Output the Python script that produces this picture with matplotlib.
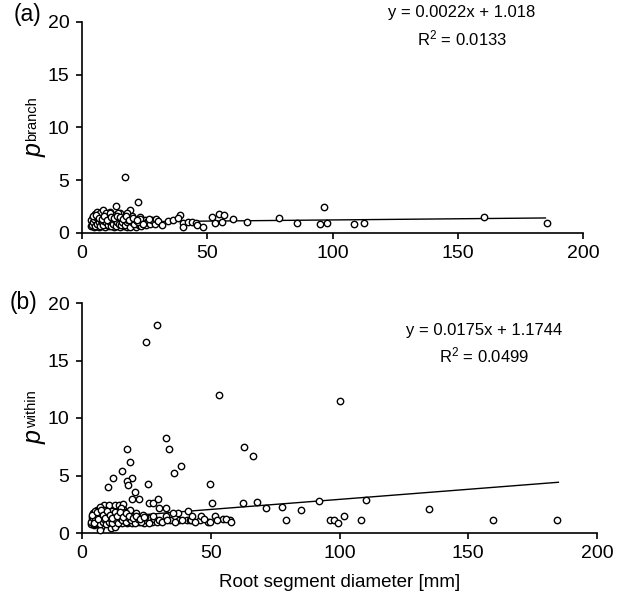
import numpy as np
import matplotlib.pyplot as plt

plt.rcParams['font.family'] = ['Liberation Sans', 'DejaVu Sans']
plt.rcParams['mathtext.fontset'] = 'custom'
plt.rcParams['mathtext.rm'] = 'Liberation Sans'
plt.rcParams['mathtext.it'] = 'Liberation Sans:italic'

# (a) p_branch vs root segment diameter
xa = [3.5, 3.8, 4.0, 4.2, 4.5, 4.6, 4.8, 5.0, 5.2, 5.5, 5.7, 5.9, 6.1, 6.3, 6.5, 6.8,
      7.0, 7.2, 7.5, 7.7, 8.0, 8.2, 8.5, 8.7, 9.0, 9.2, 9.5, 9.8, 10.0, 10.3, 10.6,
      10.9, 11.2, 11.5, 11.8, 12.1, 12.4, 12.7, 13.0, 13.3, 13.6, 13.9, 14.2, 14.5,
      14.8, 15.1, 15.4, 15.7, 16.0, 16.3, 16.6, 16.9, 17.2, 17.5, 17.8, 18.1, 18.4,
      18.7, 19.0, 19.3, 19.6, 20.0, 20.4, 20.8, 21.2, 21.6, 22.0, 22.4, 22.8, 23.2,
      23.6, 24.0, 24.5, 25.0, 25.5, 26.0, 26.5, 27.0, 28.0, 29.0,
      5.0, 6.0, 7.0, 9.0, 11.0, 13.0, 15.0, 20.0, 23.0,
      17.2, 22.2, 13.6, 19.2, 8.5, 9.6, 17.8, 14.5, 11.2,
      26.7, 29.5, 30.5, 31.8, 34.5, 36.4, 39.1, 38.3, 40.5, 40.5, 42.4, 43.8, 45.5,
      46.0, 48.4, 51.8, 53.1, 54.8, 56.7, 55.8, 60.2, 65.7,
      78.8, 86.0, 95.0, 96.7, 97.9, 108.6, 112.7, 160.5, 185.5]
ya = [0.7, 1.0, 1.3, 0.9, 1.5, 0.6, 1.1, 0.8, 1.4, 1.0, 0.7, 1.2, 1.6, 0.9, 1.1, 0.6,
      1.3, 0.8, 1.0, 1.5, 0.7, 1.2, 0.9, 1.4, 1.0, 0.6, 1.2, 0.8, 1.5, 1.0, 0.7,
      1.3, 0.9, 1.1, 1.6, 0.8, 1.2, 0.6, 1.0, 1.4, 0.8, 1.1, 0.7, 1.3,
      1.0, 0.6, 1.2, 0.9, 1.5, 0.8, 1.1, 0.7, 1.3, 1.0, 0.6, 1.2, 0.9,
      1.4, 0.8, 1.1, 0.7, 1.0, 1.3, 0.8, 1.1, 0.6, 0.9, 1.2, 0.8, 1.0,
      0.7, 1.1, 0.9, 1.2, 0.8, 1.0, 1.1, 0.9, 1.2, 0.9,
      1.8, 2.0, 1.9, 1.7, 2.0, 1.7, 1.9, 1.6, 1.5,
      5.34, 2.9, 2.56, 2.18, 2.2, 1.9, 1.86, 1.9, 1.86,
      1.3, 1.3, 1.17, 0.76, 1.17, 1.23, 1.7, 1.45, 0.92, 0.6, 1.07, 1.07, 0.98,
      0.76, 0.54, 1.55, 0.98, 1.8, 1.7, 1.07, 1.33, 1.07,
      1.42, 0.95, 0.85, 2.43, 0.95, 0.85, 0.95, 1.55, 0.95]
# more of the dense cluster at small diameters
xa_dense = [3.7, 4.1, 4.4, 4.9, 5.3, 5.6, 6.0, 6.4, 6.7, 7.1, 7.4, 7.9, 8.3, 8.8,
            9.3, 9.7, 10.2, 10.7, 11.1, 11.6, 12.0, 12.5, 13.1, 13.5, 14.0, 14.6,
            15.0, 15.6, 16.1, 16.7, 17.3, 17.9, 18.5, 19.1, 19.8, 20.6, 21.4, 22.2,
            23.0, 24.2,
            4.3, 5.4, 6.6, 7.8, 8.9, 10.1, 11.4, 12.6, 13.8, 15.2, 16.4, 17.6, 18.8,
            20.2, 21.8]
ya_dense = [1.2, 0.8, 1.0, 1.3, 0.7, 1.5, 0.9, 1.3, 1.0, 0.7, 1.2, 1.0, 0.8, 1.1,
            1.3, 1.0, 0.8, 1.1, 1.4, 0.7, 1.0, 0.9, 1.2, 0.7, 1.0, 0.9,
            1.4, 0.8, 1.0, 1.3, 0.8, 1.0, 1.2, 0.6, 1.0, 0.9, 1.2, 1.0,
            1.3, 0.9,
            1.6, 1.7, 1.4, 1.3, 1.6, 1.2, 1.5, 1.4, 1.6, 1.5, 1.3, 1.6, 1.2,
            1.4, 1.2]

# (b) p_within vs root segment diameter
xb = [3.5, 3.8, 4.0, 4.2, 4.4, 4.6, 4.8, 5.0, 5.3, 5.5, 5.8, 6.0, 6.3, 6.5, 6.8,
      7.0, 7.2, 7.5, 7.8, 8.0, 8.3, 8.6, 8.9, 9.2, 9.5, 9.8, 10.1, 10.4, 10.7,
      11.0, 11.3, 11.6, 12.0, 12.3, 12.6, 13.0, 13.3, 13.6, 14.0, 14.4, 14.8,
      15.2, 15.6, 16.0, 16.5, 17.0, 17.5, 18.0, 18.5, 19.0, 19.5, 20.0, 21.0,
      22.0, 23.0, 24.0, 25.0, 26.0, 27.0, 28.0, 29.0, 30.0,
      8.6, 10.6, 12.8, 14.5, 15.8, 7.0, 7.2, 8.9, 11.1, 12.8, 6.3, 4.4, 7.0,
      29.2, 24.7, 53.1, 32.8, 33.6, 17.3, 18.7, 63.1, 66.5, 15.6, 12.1, 19.6,
      17.3, 18.0, 10.2, 35.7, 38.6, 25.6, 20.7, 49.6, 19.3, 22.1, 26.0, 27.6,
      29.6, 30.0, 32.8, 50.6, 62.5, 68.1, 71.6, 41.2, 37.1, 35.4, 32.8, 34.1,
      37.7, 40.6, 41.9, 42.5, 45.7, 49.0, 49.6, 42.8, 46.1, 51.6, 54.8, 57.4,
      56.1,
      100.0, 77.5, 85.0, 79.1, 92.0, 96.4, 97.7, 99.5, 101.6, 108.4, 110.3,
      134.9, 159.8, 184.6]
yb = [0.8, 1.1, 1.4, 0.9, 1.7, 1.2, 0.7, 1.0, 1.5, 0.9, 1.2, 2.0, 0.8, 1.3, 1.0,
      1.6, 0.9, 1.2, 2.1, 0.8, 1.4, 1.0, 1.8, 1.2, 0.9, 1.5, 1.1, 2.2, 0.8,
      1.3, 1.0, 1.7, 1.2, 0.9, 2.0, 1.1, 1.4, 0.8, 1.2, 1.6, 1.0,
      1.3, 0.9, 2.1, 1.1, 1.4, 0.9, 1.2, 1.0, 1.5, 0.9, 1.1, 1.3,
      1.0, 1.2, 0.9, 1.1, 1.3, 1.0, 1.2, 1.0, 1.1,
      2.43, 2.43, 2.43, 2.43, 2.5, 2.29, 0.5, 0.84, 0.4, 0.5, 0.98, 1.13, 0.3,
      18.1, 16.6, 12.0, 8.29, 7.27, 7.27, 6.17, 7.5, 6.7, 5.39, 4.81, 4.81,
      4.52, 4.14, 4.03, 5.25, 5.83, 4.23, 3.6, 4.23, 2.93, 2.93, 2.58, 2.58,
      2.93, 2.2, 2.2, 2.58, 2.58, 2.7, 2.14, 1.91, 1.77, 1.77, 1.48, 1.13,
      1.13, 1.13, 1.13, 1.13, 1.13, 1.0, 1.0, 1.48, 1.48, 1.48, 1.19, 1.13,
      1.2,
      11.5, 2.23, 2.03, 1.13, 2.81, 1.13, 1.13, 0.9, 1.45, 1.13, 2.9,
      2.1, 1.13, 1.13]
xb_dense = [3.6, 4.1, 4.5, 5.1, 5.6, 6.1, 6.6, 7.1, 7.6, 8.1, 8.7, 9.3, 9.9, 10.5,
            11.1, 11.8, 12.5, 13.2, 13.9, 14.7, 15.5, 16.3, 17.2, 18.2, 19.2, 20.4,
            21.6, 23.0, 24.5, 26.0,
            5.2, 6.9, 8.4, 9.7, 11.5, 13.4, 15.0, 16.8, 18.6, 20.8, 23.5, 27.5,
            31.0, 33.0, 36.0, 39.0, 44.0, 47.5, 52.5, 58.0,
            4.0, 4.8, 5.7, 6.4, 7.3, 8.2, 9.0, 9.9, 10.8, 11.7, 12.7, 13.7,
            14.8, 15.9, 17.1, 18.4, 19.7, 21.1, 22.6, 24.0]
yb_dense = [1.0, 1.3, 0.8, 1.1, 0.9, 1.4, 1.1, 0.8, 1.3, 1.0, 1.2, 0.8, 1.4, 1.0,
            1.2, 0.9, 1.5, 1.1, 0.9, 1.3, 1.1, 1.6, 1.0, 1.3, 1.1, 0.9, 1.2, 1.0,
            1.4, 0.9,
            1.9, 1.7, 2.0, 1.8, 1.9, 1.7, 2.2, 1.8, 2.0, 1.7, 1.6, 1.5,
            1.0, 1.1, 1.0, 1.1, 1.0, 1.2, 1.1, 1.0,
            1.6, 0.9, 1.8, 1.2, 2.0, 1.6, 1.3, 1.9, 1.6, 1.3, 1.8, 1.5,
            1.8, 1.4, 1.7, 1.5, 1.3, 1.5, 1.2, 1.4]

fits = [(0.0022, 1.018, 'y = 0.0022x + 1.018', 'R$^2$ = 0.0133'),
        (0.0175, 1.1744, 'y = 0.0175x + 1.1744', 'R$^2$ = 0.0499')]

W, H = 623, 602
fig = plt.figure(figsize=(W / 100, H / 100), dpi=100)
ax1 = fig.add_axes([82 / W, 1 - 233 / H, 501 / W, 211 / H])
ax2 = fig.add_axes([82 / W, 1 - 533 / H, 515 / W, 230 / H])

panels = [(ax1, xa + xa_dense, ya + ya_dense),
          (ax2, xb + xb_dense, yb + yb_dense)]

for k, (ax, x, y) in enumerate(panels):
    ax.plot(x, y, 'o', ms=4.6, mfc='white', mec='black', mew=1.0, ls='none',
            clip_on=False, zorder=3)
    a, b, eq, r2 = fits[k]
    xl = np.array([3.5, 185.0])
    ax.plot(xl, a * xl + b, color='black', lw=1.0, zorder=2)
    ax.set_xlim(0, 200)
    ax.set_ylim(0, 20)
    ax.set_xticks([0, 50, 100, 150, 200])
    ax.set_yticks([0, 5, 10, 15, 20])
    ax.spines['top'].set_visible(False)
    ax.spines['right'].set_visible(False)
    ax.spines['left'].set_linewidth(1.2)
    ax.spines['bottom'].set_linewidth(1.2)
    ax.tick_params(direction='out', length=4, width=1.2, labelsize=14, pad=5)


def px(x, y):
    return x / W, 1 - y / H


# panel letters
fig.text(*px(14, 15), '(a)', fontsize=16.5, ha='left', va='center')
fig.text(*px(10, 302), '(b)', fontsize=16.5, ha='left', va='center')

# y labels: italic p with small upright subscript
fig.text(*px(35, 150), 'p', fontsize=18, style='italic', rotation=90,
         ha='center', va='center')
fig.text(*px(32.5, 119), 'branch', fontsize=10.5, rotation=90,
         ha='center', va='center')
fig.text(*px(35, 437), 'p', fontsize=18, style='italic', rotation=90,
         ha='center', va='center')
fig.text(*px(32.5, 409), 'within', fontsize=10.5, rotation=90,
         ha='center', va='center')

# regression equations
fig.text(*px(462, 13), fits[0][2], fontsize=12, ha='center', va='center')
fig.text(*px(462, 38), fits[0][3], fontsize=12, ha='center', va='center')
fig.text(*px(484, 330), fits[1][2], fontsize=12, ha='center', va='center')
fig.text(*px(484, 355), fits[1][3], fontsize=12, ha='center', va='center')

ax2.set_xlabel('Root segment diameter [mm]', fontsize=13.5, labelpad=8)

fig.savefig('out.png', dpi=100)
